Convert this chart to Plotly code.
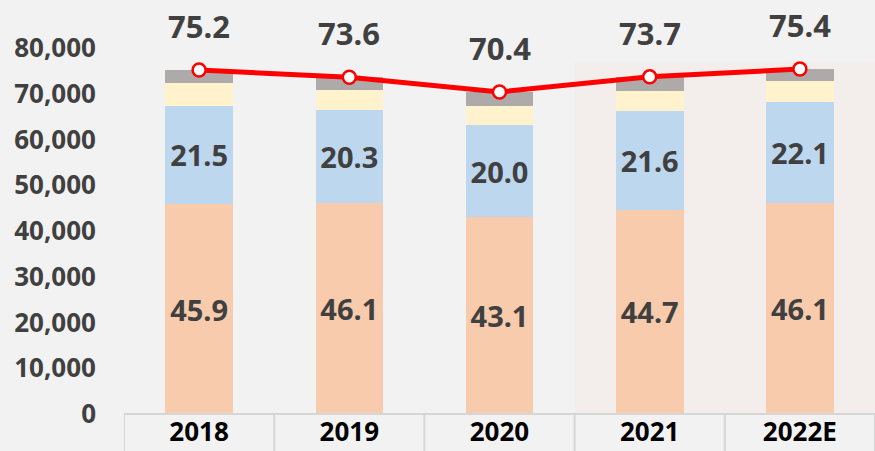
import plotly.graph_objects as go

categories = ["2018", "2019", "2020", "2021", "2022E"]
seg_orange = [45.9, 46.1, 43.1, 44.7, 46.1]
seg_blue = [21.5, 20.3, 20.0, 21.6, 22.1]
seg_yellow = [5.0, 4.4, 4.2, 4.4, 4.5]
seg_gray = [2.8, 2.8, 3.1, 3.0, 2.7]
totals = [75.2, 73.6, 70.4, 73.7, 75.4]
y_tickvals = [0, 10000, 20000, 30000, 40000, 50000, 60000, 70000, 80000]
y_ticktext = ["0", "10,000", "20,000", "30,000", "40,000", "50,000", "60,000", "70,000", "80,000"]

SCALE = 1000
FONT = "Noto Sans"
LABEL_COLOR = "#404040"

fig = go.Figure()

def add_seg(vals, color, show_text):
    fig.add_trace(go.Bar(
        x=categories,
        y=[v * SCALE for v in vals],
        marker=dict(color=color, line=dict(width=0)),
        width=0.45,
        text=[f"{v:.1f}" for v in vals] if show_text else None,
        textposition="inside" if show_text else "none",
        insidetextanchor="middle",
        textangle=0,
        constraintext="none",
        textfont=dict(family=FONT, size=29, color=LABEL_COLOR, weight="bold"),
        hoverinfo="skip",
        showlegend=False,
    ))

add_seg(seg_orange, "#f8cbad", True)
add_seg(seg_blue, "#bdd7ee", True)
add_seg(seg_yellow, "#fff2cc", False)
add_seg(seg_gray, "#aeaaaa", False)

fig.add_trace(go.Scatter(
    x=categories,
    y=[v * SCALE for v in totals],
    mode="lines+markers",
    line=dict(color="#ff0000", width=5),
    marker=dict(size=13, color="white", line=dict(color="#ff0000", width=2.5)),
    hoverinfo="skip",
    showlegend=False,
))

for i, t in enumerate(totals):
    fig.add_annotation(
        x=i, y=t * SCALE, text=f"{t:.1f}", showarrow=False,
        yshift=44, font=dict(family=FONT, size=31, color=LABEL_COLOR, weight="bold"),
    )

shapes = []
# shaded forecast region
shapes.append(dict(type="rect", xref="x", yref="y", x0=2.5, x1=4.7, y0=0, y1=77000,
                   fillcolor="#f3eeeb", line=dict(width=0), layer="below"))
# category box lines below axis
for xb in [-0.5, 0.5, 1.5, 2.5, 3.5, 4.5]:
    shapes.append(dict(type="line", xref="x", yref="paper", x0=xb, x1=xb, y0=0, y1=-0.2,
                       line=dict(color="#d6d6d6", width=2)))
shapes.append(dict(type="line", xref="paper", yref="paper", x0=0, x1=1, y0=0, y1=0,
                   line=dict(color="#d6d6d6", width=2)))

fig.update_layout(
    width=875, height=451,
    margin=dict(l=124, r=0, t=0, b=37),
    paper_bgcolor="#f2f2f2",
    plot_bgcolor="#f2f2f2",
    barmode="stack",
    shapes=shapes,
    xaxis=dict(
        type="category", range=[-0.5, 4.5], showgrid=False, zeroline=False, showline=False,
        tickfont=dict(family=FONT, size=26, color="#000000", weight="bold"),
        ticks="", ticklabelstandoff=0, automargin=False,
    ),
    yaxis=dict(
        range=[0, 90500], showgrid=False, zeroline=False, showline=False,
        tickvals=y_tickvals, ticktext=y_ticktext,
        tickfont=dict(family=FONT, size=26, color=LABEL_COLOR, weight="bold"),
        ticks="", ticklabelstandoff=27, automargin=False,
    ),
)

fig.write_html(
    "out.html",
    config={"displayModeBar": False},
    post_script="document.body.style.margin='0';document.body.style.overflow='hidden';",
)
